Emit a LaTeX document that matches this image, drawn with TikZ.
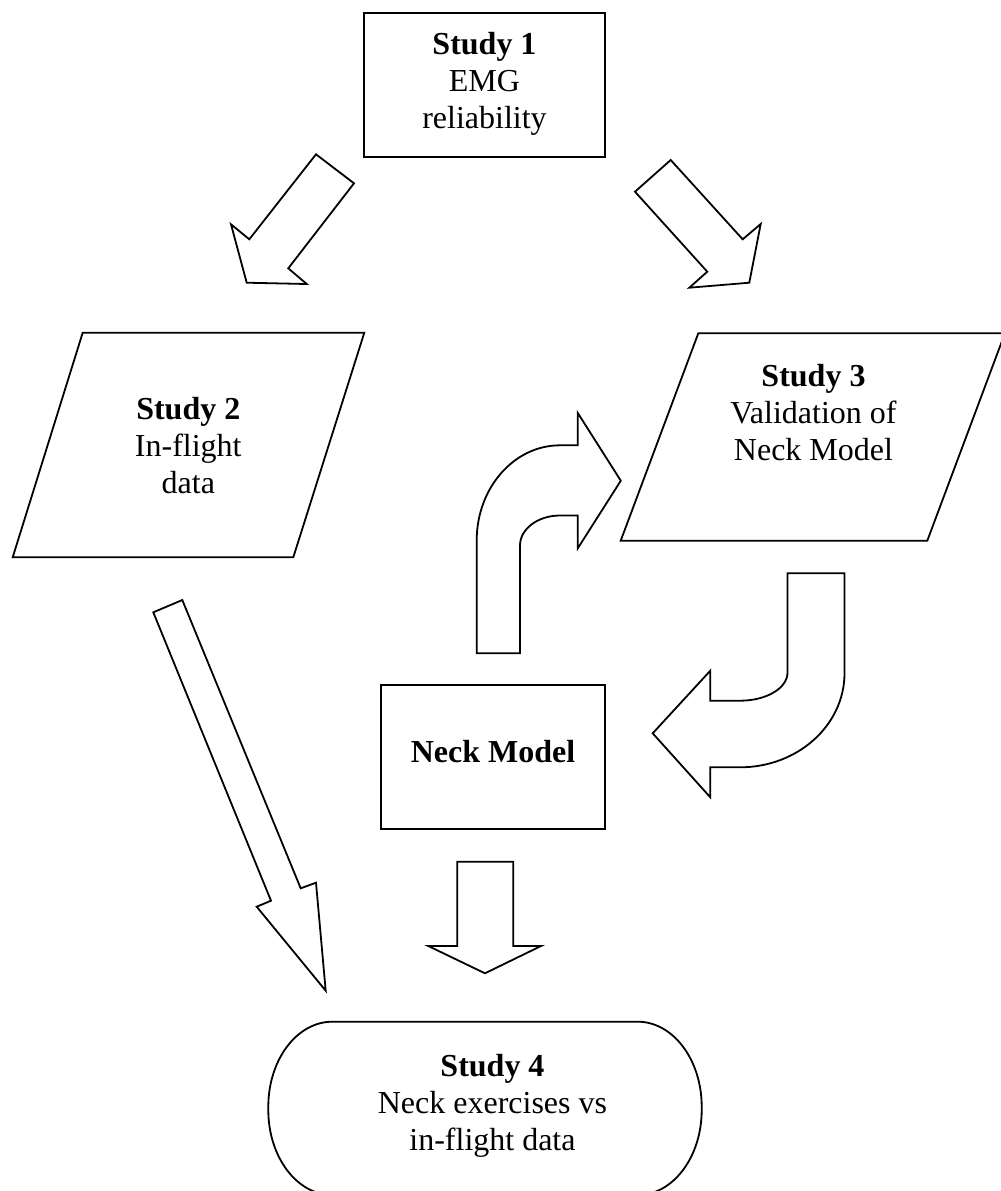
\documentclass[tikz,border=0pt]{standalone}
\usepackage{fontspec}
\setmainfont{Liberation Serif}
\begin{document}
\begin{tikzpicture}[x=0.5pt,y=-0.5pt,
  shp/.style={draw=black, line width=0.9pt, line join=miter, fill=white},
  lbl/.style={align=center, font=\fontsize{16}{18.5}\selectfont, inner sep=0pt},
  boxnode/.style={shp, rectangle, inner sep=0pt}]
\useasboundingbox (0,0) rectangle (1001,1191);
\clip (0,0) rectangle (1001,1191);

% Study 1 box
\node[boxnode, minimum width=120.5pt, minimum height=72pt] (s1box) at (484.5,85) {};
\node[lbl] (s1) at (484.5,83.4) {\textbf{Study 1}\\EMG\\reliability};

% Study 2 parallelogram
\draw[shp] (82.7,332.7) coordinate (s2tl) -- (364.3,332.7) coordinate (s2tr)
  -- (293.3,557.3) coordinate (s2br) -- (12.7,557.3) coordinate (s2bl) -- cycle;
\node[lbl] (s2) at (188.3,445.7) {\textbf{Study 2}\\In-flight\\data};

% Study 3 parallelogram
\draw[shp] (698.3,333.3) coordinate (s3tl) -- (1004.9,333.3) coordinate (s3tr)
  -- (927.3,540.7) coordinate (s3br) -- (620.7,540.7) coordinate (s3bl) -- cycle;
\node[lbl] (s3) at (813.5,413) {\textbf{Study 3}\\Validation of\\Neck Model};

% Neck Model box
\node[boxnode, minimum width=112pt, minimum height=71.7pt] (nmbox) at (493,757) {};
\node[lbl, anchor=base] (nm) at (493,762.7) {\textbf{Neck Model}};

% Study 4 rounded shape
\draw[shp] (332.3,1021.7) -- (637.7,1021.7)
  arc[start angle=-90, end angle=0, x radius=64, y radius=85] -- (701.7,1110)
  arc[start angle=0, end angle=90, x radius=64, y radius=85] -- (332.3,1195)
  arc[start angle=90, end angle=180, x radius=64, y radius=85] -- (268.3,1106.7)
  arc[start angle=180, end angle=270, x radius=64, y radius=85] -- cycle;
\node[lbl] (s4) at (492.5,1105.8) {\textbf{Study 4}\\Neck exercises vs\\in-flight data};

% Block arrow: Study 1 -> Study 2
\draw[shp] (316,154.3) -- (354,183.3) -- (288.3,268.3) -- (306.7,284)
  -- (246.7,282.7) -- (231,224.3) -- (249.3,239.3) -- cycle;

% Block arrow: Study 1 -> Study 3
\draw[shp] (670.7,160) -- (635,191.7) -- (707.3,271.7) -- (689.3,287.7)
  -- (749.3,282.7) -- (760.7,224) -- (742.7,239.3) -- cycle;

% Long block arrow: Study 2 -> Study 4
\draw[shp] (182.3,600) -- (300.7,888.3) -- (316,882.7) -- (325.7,990.7)
  -- (256.7,906.7) -- (271,900.7) -- (153.3,612.3) -- cycle;

% Block arrow: Neck Model -> Study 4
\draw[shp] (457.3,861.7) -- (513.3,861.7) -- (513.3,946) -- (541,946)
  -- (485,973.3) -- (428.3,946) -- (457.3,946) -- cycle;

% Curved arrow: Neck Model -> Study 3
\draw[shp] (476.7,653.3) -- (476.7,540.5)
  arc[start angle=180, end angle=270, x radius=83.3, y radius=95.2]
  -- (577.8,445.3) -- (577.8,413) -- (620.8,480.7) -- (577.8,548.3)
  -- (577.8,515.5) -- (560,515.5)
  arc[start angle=270, end angle=180, x radius=40, y radius=30]
  -- (520,653.3) -- cycle;

% Curved arrow: Study 3 -> Neck Model
\draw[shp] (787.5,573.3) -- (844.5,573.3) -- (844.5,673.3)
  arc[start angle=0, end angle=90, x radius=104.5, y radius=94]
  -- (710.3,767.3) -- (710.3,797.3) -- (652.7,733.3) -- (710.3,670.7)
  -- (710.3,700.7) -- (740,700.7)
  arc[start angle=90, end angle=0, x radius=47.5, y radius=28]
  -- cycle;
\end{tikzpicture}
\end{document}
